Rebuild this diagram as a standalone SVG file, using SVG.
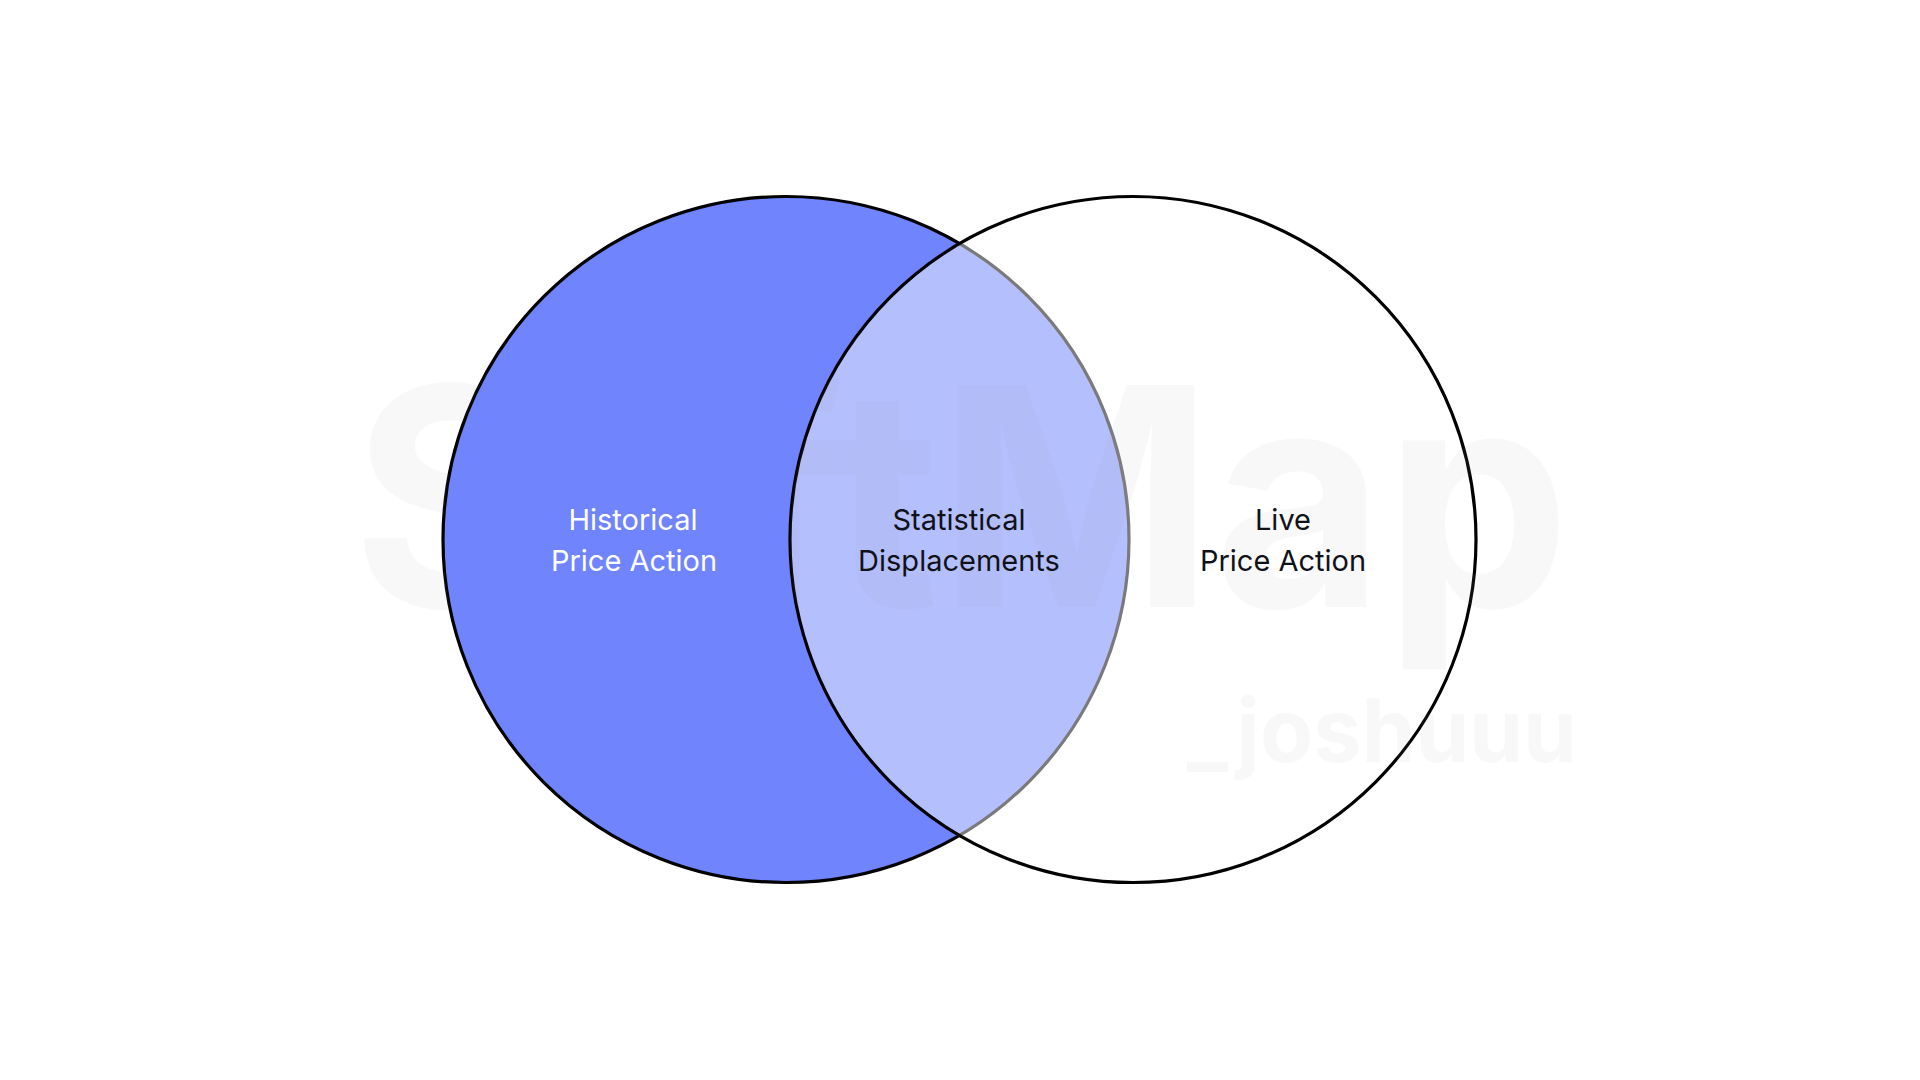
<svg xmlns="http://www.w3.org/2000/svg" width="1920" height="1080" viewBox="0 0 1920 1080">
<style>
.lbl{font-family:Inter,"Noto Sans",sans-serif;font-size:29px;text-anchor:middle}
.light{fill:#ffffff}
.dark{fill:#111218}
.wm{font-family:Inter,"Noto Sans",sans-serif;font-weight:700;fill:#aaaaaa;fill-opacity:0.08}
</style>
<defs>
<mask id="wmMask" maskUnits="userSpaceOnUse" x="0" y="0" width="1920" height="1080">
<rect width="1920" height="1080" fill="#fff"/>
<circle cx="786" cy="539.5" r="343" fill="#000"/>
<circle cx="1133" cy="539.5" r="343" fill="#fff"/>
</mask>
</defs>
<rect width="1920" height="1080" fill="#ffffff"/>
<g id="historical">
<circle cx="786" cy="539.5" r="343" fill="#6F84FD" stroke="#000" stroke-width="3.2"/>
</g>
<g id="live">
<circle cx="1133" cy="539.5" r="343" fill="#ffffff" fill-opacity="0.48" stroke="#000" stroke-width="3.2"/>
</g>
<g id="watermark" mask="url(#wmMask)">
<text class="wm" x="352" y="607" font-size="305" textLength="1218" lengthAdjust="spacingAndGlyphs">SoftMap</text>
<text class="wm" x="1187" y="762" font-size="88" textLength="390" lengthAdjust="spacingAndGlyphs">_joshuuu</text>
</g>
<g id="labels">
<g id="label-historical"><text class="lbl light" x="633" y="530">Historical</text><text class="lbl light" x="634" y="571">Price Action</text></g>
<g id="label-statistical"><text class="lbl dark" x="959" y="530">Statistical</text><text class="lbl dark" x="959" y="571">Displacements</text></g>
<g id="label-live"><text class="lbl dark" x="1283" y="530">Live</text><text class="lbl dark" x="1283" y="571">Price Action</text></g>
</g>
<g id="connectors"/>
</svg>
